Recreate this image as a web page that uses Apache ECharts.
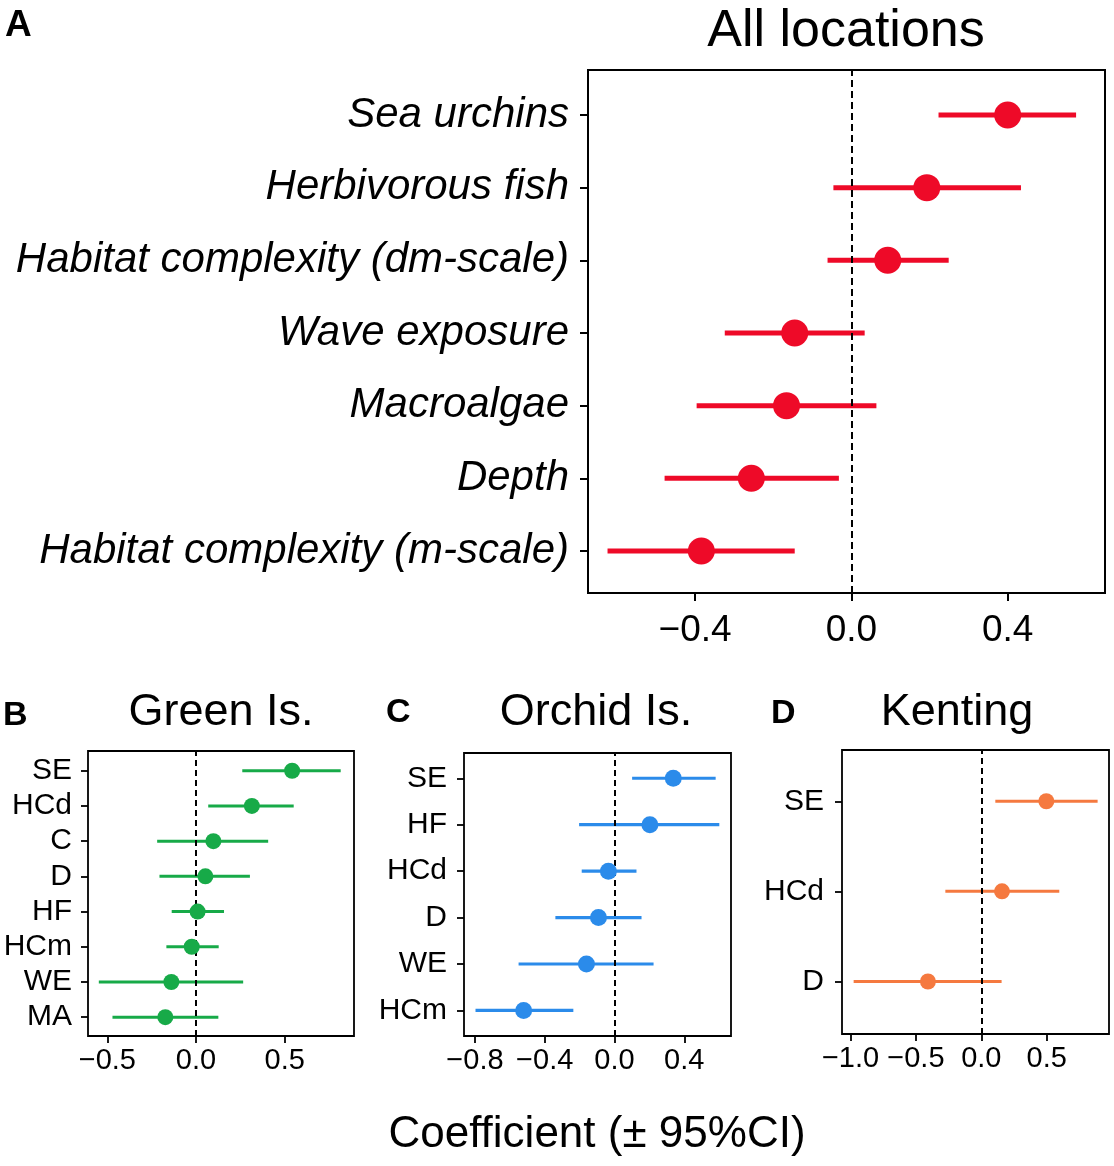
<!DOCTYPE html>
<html>
<head>
<meta charset="utf-8">
<script src="https://cdn.jsdelivr.net/npm/echarts@6/dist/echarts.min.js"></script>
<style>
  html, body { margin: 0; padding: 0; background: #fff; }
  #chart { width: 1114px; height: 1166px; }
</style>
</head>
<body>
<div id="chart"></div>
<script>
// values listed bottom row first
const labelsA = ['Habitat complexity (m-scale)', 'Depth', 'Macroalgae', 'Wave exposure',
  'Habitat complexity (dm-scale)', 'Herbivorous fish', 'Sea urchins'];
const coefA = [-0.384, -0.256, -0.166, -0.145, 0.093, 0.193, 0.400];
const lowA = [-0.624, -0.478, -0.396, -0.324, -0.061, -0.046, 0.223];
const highA = [-0.145, -0.032, 0.064, 0.034, 0.249, 0.434, 0.575];

const labelsB = ['MA', 'WE', 'HCm', 'HF', 'D', 'C', 'HCd', 'SE'];
const coefB = [-0.173, -0.139, -0.024, 0.009, 0.053, 0.098, 0.315, 0.542];
const lowB = [-0.471, -0.548, -0.167, -0.137, -0.206, -0.219, 0.069, 0.261];
const highB = [0.126, 0.266, 0.128, 0.158, 0.304, 0.407, 0.551, 0.816];

const labelsC = ['HCm', 'WE', 'D', 'HCd', 'HF', 'SE'];
const coefC = [-0.521, -0.161, -0.092, -0.035, 0.203, 0.337];
const lowC = [-0.797, -0.550, -0.339, -0.188, -0.203, 0.101];
const highC = [-0.236, 0.224, 0.155, 0.126, 0.601, 0.580];

const labelsD = ['D', 'HCd', 'SE'];
const coefD = [-0.408, 0.158, 0.497];
const lowD = [-0.976, -0.275, 0.107];
const highD = [0.155, 0.596, 0.889];

const ticksA = [-0.4, 0, 0.4];
const ticksB = [-0.5, 0, 0.5];
const ticksC = [-0.8, -0.4, 0, 0.4];
const ticksD = [-1, -0.5, 0, 0.5];

const FONT = 'Liberation Sans, Arial, Helvetica, sans-serif';

function fmt(v) {
  const s = Math.abs(v).toFixed(1);
  return v < -1e-9 ? '\u2212' + s : s;
}

const panels = [
  { labels: labelsA, coef: coefA, low: lowA, high: highA, ticks: ticksA,
    grid: { left: 588, top: 70, width: 517, height: 523 },
    xMin: -0.674, xMax: 0.649, yPad: [0.578, 0.619],
    color: '#EE0A28', lw: 5, size: 27, border: 2, tickLen: 8,
    yFont: 42, yItalic: true, yMargin: 19, xFont: 37, xMargin: 19, dash: [7, 4] },
  { labels: labelsB, coef: coefB, low: lowB, high: highB, ticks: ticksB,
    grid: { left: 88, top: 751, width: 266, height: 285 },
    xMin: -0.609, xMax: 0.891, yPad: [0.534, 0.56],
    color: '#17AA48', lw: 3, size: 16, border: 1.8, tickLen: 7,
    yFont: 30, yItalic: false, yMargin: 16, xFont: 29, xMargin: 10, dash: [6, 4] },
  { labels: labelsC, coef: coefC, low: lowC, high: highC, ticks: ticksC,
    grid: { left: 464, top: 753, width: 267, height: 283 },
    xMin: -0.863, xMax: 0.668, yPad: [0.55, 0.544],
    color: '#2B8BEA', lw: 3.2, size: 17, border: 1.8, tickLen: 7,
    yFont: 30, yItalic: false, yMargin: 17, xFont: 29, xMargin: 10, dash: [6, 4] },
  { labels: labelsD, coef: coefD, low: lowD, high: highD, ticks: ticksD,
    grid: { left: 842, top: 750, width: 267, height: 284 },
    xMin: -1.065, xMax: 0.976, yPad: [0.583, 0.569],
    color: '#F5793F', lw: 3, size: 16, border: 1.8, tickLen: 7,
    yFont: 30, yItalic: false, yMargin: 18, xFont: 29, xMargin: 10, dash: [6, 4] }
];

const grids = [], xAxes = [], yAxes = [], series = [];

panels.forEach(function (p, i) {
  const n = p.labels.length;
  const rows = p.labels.map(function (_, k) { return k + 1; });
  grids.push(Object.assign({
    show: true, borderColor: '#000', borderWidth: p.border, backgroundColor: 'transparent'
  }, p.grid));
  xAxes.push({
    type: 'value', gridIndex: i, min: p.xMin, max: p.xMax,
    axisLine: { show: false, onZero: false },
    splitLine: { show: false },
    axisTick: { show: true, customValues: p.ticks, length: p.tickLen,
      lineStyle: { color: '#000', width: p.border } },
    axisLabel: { show: true, customValues: p.ticks, formatter: fmt, margin: p.xMargin,
      color: '#000', fontSize: p.xFont, fontFamily: FONT }
  });
  yAxes.push({
    type: 'value', gridIndex: i, min: 1 - p.yPad[0], max: n + p.yPad[1],
    axisLine: { show: false, onZero: false },
    splitLine: { show: false },
    axisTick: { show: true, customValues: rows, length: p.tickLen,
      lineStyle: { color: '#000', width: p.border } },
    axisLabel: { show: true, customValues: rows, margin: p.yMargin,
      formatter: function (v) { return p.labels[Math.round(v) - 1]; },
      color: '#000', fontSize: p.yFont, fontFamily: FONT,
      fontStyle: p.yItalic ? 'italic' : 'normal' }
  });
  series.push({
    type: 'custom', xAxisIndex: i, yAxisIndex: i, z: 2,
    data: rows.map(function (r, k) { return [p.low[k], p.high[k], r]; }),
    encode: { x: [0, 1], y: 2 },
    renderItem: function (params, api) {
      const a = api.coord([api.value(0), api.value(2)]);
      const b = api.coord([api.value(1), api.value(2)]);
      return { type: 'line', shape: { x1: a[0], y1: a[1], x2: b[0], y2: b[1] },
        style: { stroke: p.color, lineWidth: p.lw, lineCap: 'butt' } };
    },
    markLine: {
      silent: true, symbol: ['none', 'none'], z: 5, animation: false,
      label: { show: false },
      lineStyle: { color: '#000', type: p.dash, width: 2 },
      data: [{ xAxis: 0 }]
    }
  });
  series.push({
    type: 'scatter', xAxisIndex: i, yAxisIndex: i, z: 10,
    symbol: 'circle', symbolSize: p.size,
    itemStyle: { color: p.color, opacity: 1 },
    data: rows.map(function (r, k) { return [p.coef[k], r]; })
  });
});

function txt(text, x, y, size, weight, align) {
  return { type: 'text', x: x, y: y, silent: true,
    style: { text: text, fill: '#000', fontFamily: FONT, fontSize: size,
      fontWeight: weight || 'normal', textAlign: align || 'center', textVerticalAlign: 'middle' } };
}

const chart = echarts.init(document.getElementById('chart'), null, { renderer: 'canvas' });
chart.setOption({
  animation: false,
  backgroundColor: '#fff',
  grid: grids, xAxis: xAxes, yAxis: yAxes, series: series,
  graphic: [
    txt('A', 5, 26, 37, 'bold', 'left'),
    txt('All locations', 846, 32, 52),
    txt('B', 3, 716, 34, 'bold', 'left'),
    txt('Green Is.', 221, 713, 45),
    txt('C', 386, 713, 34, 'bold', 'left'),
    txt('Orchid Is.', 596, 713, 45),
    txt('D', 771, 714, 34, 'bold', 'left'),
    txt('Kenting', 957, 713, 45),
    txt('Coefficient (\u00B1 95%CI)', 597, 1135, 44)
  ]
});
</script>
</body>
</html>
